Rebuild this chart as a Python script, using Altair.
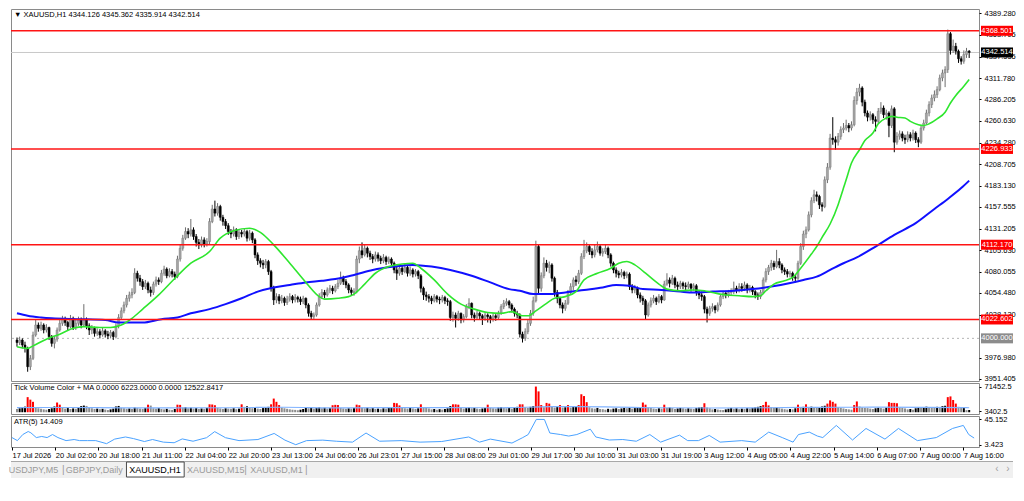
import json
import altair as alt
import pandas as pd

FONT = "Liberation Sans Narrow, Liberation Sans, Arial, sans-serif"
FS = 7.5

# ---------------- price data (H1 candles) ----------------
first_open = 3998
closes = [
    3995, 3998, 3992, 3988, 3966, 3976, 4004, 4016, 4012, 4016,
    4010, 4013, 4002, 3994, 3999, 4010, 4018, 4023, 4019, 4014,
    4024, 4013, 4018, 4022, 4016, 4022, 4015, 4010, 4012, 4006,
    4008, 4004, 4009, 4005, 4003, 4007, 4002, 4015, 4025, 4033,
    4040, 4048, 4052, 4055, 4078, 4072, 4068, 4062, 4066, 4058,
    4055, 4065, 4070, 4068, 4078, 4083, 4075, 4080, 4077, 4074,
    4095, 4108, 4120, 4128, 4125, 4130, 4122, 4115, 4112, 4118,
    4113, 4116, 4140, 4155, 4150, 4158, 4145, 4140, 4135, 4128,
    4125, 4130, 4122, 4127, 4125, 4128, 4120, 4126, 4118, 4100,
    4093, 4090, 4088, 4092, 4080, 4060, 4046, 4050, 4045, 4048,
    4043, 4047, 4050, 4046, 4049, 4047, 4044, 4048, 4040, 4030,
    4026, 4028, 4040, 4050, 4055, 4052, 4058, 4060, 4057, 4062,
    4066, 4072, 4068, 4064, 4058, 4055, 4056, 4095, 4105, 4100,
    4108, 4102, 4098, 4095, 4100, 4096, 4093, 4097, 4092, 4095,
    4090, 4082, 4078, 4084, 4080, 4085, 4078, 4082, 4077, 4080,
    4075, 4060, 4052, 4050, 4048, 4045, 4050, 4047, 4046, 4049,
    4045, 4044, 4025, 4028, 4024, 4030, 4022, 4026, 4038, 4042,
    4028, 4025, 4030, 4027, 4024, 4028, 4026, 4023, 4027, 4025,
    4030, 4038, 4042, 4044, 4040, 4035, 4030, 4028, 4005, 4000,
    4008, 4018, 4030, 4045, 4110, 4060, 4075, 4090, 4085, 4088,
    4072, 4055, 4048, 4040, 4036, 4042, 4055, 4062, 4070, 4068,
    4078, 4098, 4105, 4110, 4104, 4100, 4106, 4110, 4102, 4104,
    4108, 4100, 4090, 4082, 4078, 4076, 4079, 4075, 4077, 4062,
    4058, 4060, 4052, 4048, 4045, 4028, 4040, 4045, 4048, 4044,
    4050, 4046, 4065, 4070, 4066, 4072, 4064, 4062, 4066, 4063,
    4062, 4065, 4060, 4063, 4055, 4052, 4050, 4035, 4030, 4036,
    4038, 4034, 4040, 4050, 4054, 4052, 4055, 4056, 4060, 4058,
    4062, 4060, 4064, 4058, 4061, 4056, 4052, 4050, 4055, 4070,
    4080, 4085, 4090, 4086, 4092, 4088, 4082, 4080, 4077, 4078,
    4073, 4072, 4090, 4110, 4125, 4130, 4148, 4165, 4172, 4170,
    4160, 4158, 4190, 4205, 4240, 4238, 4235, 4242, 4250, 4252,
    4255, 4252, 4256, 4285, 4295, 4300, 4283, 4270, 4265, 4268,
    4262, 4260, 4272, 4276, 4268, 4270, 4255, 4275, 4235, 4242,
    4245, 4240, 4238, 4244, 4240, 4246, 4238, 4235, 4252, 4258,
    4270, 4280, 4288, 4292, 4298, 4312, 4318, 4322, 4365, 4345,
    4350, 4344, 4335, 4332, 4340, 4344.126, 4342.514,
]
highs = [
    4001, 4002, 4000, 3996, 3990, 3980, 4008, 4022, 4019, 4020,
    4018, 4017, 4014, 4004, 4003, 4013, 4022, 4027, 4026, 4021,
    4028, 4026, 4022, 4026, 4025, 4041, 4025, 4018, 4016, 4014,
    4012, 4011, 4013, 4011, 4009, 4010, 4009, 4018, 4029, 4037,
    4044, 4052, 4056, 4060, 4084, 4081, 4076, 4071, 4070, 4068,
    4062, 4068, 4074, 4073, 4082, 4087, 4085, 4084, 4083, 4080,
    4099, 4112, 4124, 4133, 4132, 4143, 4133, 4125, 4119, 4122,
    4121, 4120, 4144, 4160, 4165, 4162, 4160, 4148, 4143, 4138,
    4131, 4134, 4132, 4131, 4130, 4132, 4130, 4130, 4128, 4120,
    4103, 4096, 4094, 4095, 4094, 4082, 4063, 4054, 4053, 4052,
    4050, 4051, 4054, 4052, 4053, 4051, 4050, 4051, 4049, 4042,
    4033, 4031, 4043, 4054, 4059, 4058, 4061, 4064, 4063, 4065,
    4070, 4080, 4075, 4071, 4066, 4061, 4060, 4099, 4110, 4115,
    4112, 4110, 4105, 4101, 4104, 4103, 4099, 4101, 4099, 4098,
    4097, 4092, 4086, 4088, 4087, 4089, 4087, 4086, 4084, 4083,
    4082, 4077, 4062, 4056, 4053, 4051, 4053, 4052, 4050, 4052,
    4051, 4048, 4046, 4032, 4031, 4033, 4031, 4029, 4041, 4048,
    4043, 4031, 4033, 4032, 4029, 4031, 4030, 4028, 4030, 4029,
    4033, 4041, 4046, 4048, 4046, 4042, 4037, 4033, 4030, 4008,
    4012, 4022, 4034, 4050, 4117, 4112, 4079, 4097, 4094, 4092,
    4090, 4074, 4058, 4050, 4043, 4046, 4058, 4066, 4073, 4075,
    4082, 4102, 4118, 4115, 4113, 4108, 4112, 4116, 4113, 4108,
    4112, 4110, 4102, 4092, 4085, 4081, 4083, 4081, 4080, 4079,
    4065, 4064, 4062, 4055, 4051, 4047, 4043, 4049, 4052, 4050,
    4053, 4052, 4069, 4078, 4073, 4076, 4074, 4068, 4069, 4068,
    4067, 4068, 4066, 4066, 4065, 4058, 4056, 4052, 4038, 4039,
    4042, 4040, 4043, 4053, 4057, 4057, 4058, 4060, 4068, 4063,
    4066, 4066, 4068, 4066, 4064, 4063, 4058, 4055, 4058, 4073,
    4084, 4088, 4094, 4093, 4106, 4096, 4090, 4085, 4083, 4081,
    4080, 4076, 4093, 4114, 4129, 4134, 4152, 4169, 4178, 4176,
    4172, 4163, 4194, 4210, 4245, 4265, 4242, 4246, 4254, 4258,
    4262, 4258, 4260, 4290, 4300, 4305, 4302, 4286, 4273, 4272,
    4270, 4266, 4276, 4283, 4279, 4274, 4272, 4279, 4277, 4247,
    4249, 4248, 4244, 4248, 4247, 4250, 4248, 4241, 4255, 4262,
    4274, 4284, 4292, 4297, 4302, 4316, 4322, 4326, 4370, 4367,
    4358, 4354, 4346, 4338, 4345, 4348, 4345.362,
]
lows = [
    3990, 3992, 3988, 3983, 3960, 3962, 3974, 4002, 4008, 4009,
    4006, 4007, 3998, 3990, 3988, 3996, 4008, 4015, 4015, 4010,
    4012, 4010, 4010, 4015, 4012, 4014, 4011, 4004, 4005, 4002,
    4003, 4000, 4002, 4001, 3999, 4000, 3998, 4000, 4012, 4022,
    4030, 4037, 4044, 4048, 4053, 4068, 4063, 4058, 4059, 4054,
    4050, 4052, 4062, 4064, 4066, 4075, 4072, 4073, 4073, 4070,
    4072, 4092, 4105, 4118, 4120, 4122, 4118, 4110, 4107, 4109,
    4109, 4110, 4113, 4138, 4146, 4147, 4141, 4135, 4131, 4124,
    4120, 4122, 4118, 4119, 4121, 4122, 4116, 4117, 4114, 4096,
    4088, 4085, 4083, 4084, 4076, 4056, 4040, 4042, 4041, 4042,
    4039, 4040, 4044, 4042, 4043, 4043, 4040, 4041, 4036, 4026,
    4022, 4023, 4026, 4038, 4047, 4048, 4050, 4054, 4053, 4055,
    4059, 4064, 4064, 4060, 4054, 4051, 4051, 4054, 4090, 4096,
    4098, 4097, 4094, 4090, 4092, 4092, 4089, 4090, 4088, 4089,
    4086, 4078, 4070, 4075, 4076, 4078, 4074, 4075, 4073, 4074,
    4071, 4055, 4046, 4045, 4043, 4041, 4043, 4043, 4041, 4043,
    4041, 4039, 4021, 4020, 4013, 4021, 4018, 4019, 4024, 4035,
    4024, 4020, 4022, 4023, 4016, 4021, 4019, 4018, 4020, 4021,
    4023, 4028, 4035, 4039, 4036, 4031, 4026, 4024, 4001, 3995,
    3997, 4005, 4015, 4027, 4043, 4052, 4056, 4072, 4080, 4078,
    4068, 4050, 4042, 4036, 4030, 4033, 4040, 4052, 4058, 4063,
    4065, 4076, 4095, 4102, 4100, 4096, 4097, 4103, 4099, 4098,
    4101, 4096, 4086, 4078, 4073, 4072, 4073, 4071, 4072, 4058,
    4054, 4054, 4048, 4043, 4040, 4022, 4026, 4037, 4042, 4040,
    4042, 4042, 4045, 4063, 4061, 4064, 4060, 4057, 4059, 4059,
    4058, 4059, 4056, 4057, 4051, 4047, 4045, 4030, 4019, 4027,
    4032, 4030, 4032, 4038, 4047, 4048, 4049, 4051, 4053, 4054,
    4055, 4056, 4057, 4054, 4055, 4052, 4048, 4046, 4047, 4053,
    4067, 4076, 4081, 4082, 4084, 4084, 4078, 4076, 4073, 4073,
    4069, 4067, 4070, 4088, 4106, 4120, 4128, 4145, 4162, 4164,
    4155, 4152, 4156, 4186, 4202, 4232, 4226, 4231, 4238, 4246,
    4249, 4247, 4249, 4254, 4280, 4290, 4278, 4266, 4260, 4261,
    4257, 4248, 4258, 4269, 4264, 4262, 4241, 4252, 4223, 4232,
    4238, 4236, 4233, 4235, 4236, 4237, 4234, 4229, 4233, 4249,
    4256, 4266, 4276, 4284, 4288, 4296, 4308, 4301, 4318, 4340,
    4342, 4340, 4330, 4328, 4329, 4336, 4335.914,
]

# tick volume per bar
volumes = [
    9000, 11000, 13000, 15500, 42000, 35000, 29000, 14000, 11000, 9500,
    8000, 7000, 9000, 11000, 16000, 27000, 21000, 12000, 10000, 11500,
    9000, 10500, 9500, 12000, 17000, 18500, 17500, 13000, 11000, 9000,
    10000, 8500, 9500, 7500, 6000, 8000, 10000, 16000, 17500, 12000,
    11000, 9500, 10500, 9000, 13000, 11500, 10000, 9000, 12000, 21000,
    18500, 11000, 10000, 11500, 9000, 8000, 9500, 7000, 6500, 9000,
    21000, 20500, 13000, 14000, 11000, 12500, 10000, 11500, 9000, 10500,
    9500, 12000, 22000, 21500, 19500, 12000, 10500, 9000, 11000, 10000,
    9500, 11000, 8500, 10000, 22000, 15000, 16500, 12000, 11000, 12500,
    10000, 9000, 11500, 13000, 15000, 22000, 38000, 29000, 20000, 13000,
    11000, 9500, 8000, 7000, 6500, 5500, 7000, 9000, 12000, 11000,
    13000, 10000, 12000, 13500, 11000, 12500, 10000, 11500, 19500, 20500,
    20000, 12000, 10500, 9500, 11000, 10000, 12000, 21000, 19500, 12500,
    11000, 12500, 10000, 11500, 9000, 10000, 8500, 11000, 10000, 12000,
    14000, 26000, 25000, 19000, 13000, 11000, 10000, 12000, 10500, 9000,
    11000, 22000, 14000, 12000, 10500, 8000, 9000, 7000, 8500, 7500,
    9000, 11000, 17000, 22000, 22000, 21000, 12000, 10000, 11500, 13000,
    11000, 12000, 10000, 9000, 10500, 12000, 21000, 12500, 11000, 10000,
    13000, 14500, 12000, 11000, 12500, 10000, 13000, 15000, 22000, 22000,
    14000, 12000, 15000, 17000, 71400, 58000, 20000, 14000, 26000, 24000,
    15000, 13000, 14500, 20000, 13000, 14000, 20000, 13000, 15000, 17000,
    20000, 50000, 45000, 28000, 14000, 11000, 10000, 12000, 9000, 8500,
    7000, 9500, 8000, 10000, 11000, 9000, 10500, 12000, 11000, 12500,
    10000, 11500, 13000, 14000, 27000, 21000, 13500, 12000, 10000, 9000,
    11000, 10000, 21000, 12000, 13000, 11500, 9000, 10500, 12000, 11000,
    9500, 11000, 10000, 9000, 12000, 13000, 14000, 25000, 13000, 11000,
    8000, 9000, 7500, 6500, 6000, 8000, 10000, 12000, 9500, 11000,
    8500, 10000, 9000, 11500, 10500, 12000, 13500, 15000, 17000, 20000,
    29000, 19000, 14000, 12500, 13000, 11000, 10000, 8500, 7500, 9000,
    8000, 11000, 21000, 13000, 15000, 22000, 14000, 15500, 13000, 12000,
    14000, 16000, 18000, 24000, 33000, 29000, 24000, 14000, 12000, 10500,
    9000, 8000, 7000, 20000, 30000, 16000, 13000, 12000, 11500, 10000,
    9000, 11000, 12500, 11500, 10000, 13000, 28000, 26000, 26000, 25000,
    14000, 12000, 10500, 8000, 9000, 7000, 11000, 13000, 12000, 14000,
    15500, 14000, 13000, 12500, 15000, 13500, 17000, 18000, 42000, 44000,
    34000, 24000, 15000, 12000, 13500, 5800, 6223,
]
vol_blue_level = 19000

# volume moving average (read at sample bars)
vma_bar = [0, 20, 40, 60, 80, 100, 120, 140, 160, 180, 200, 220, 240, 260, 280, 300, 320, 340, 356]
vma_val = [12800, 13200, 12300, 12000, 12500, 13800, 12200, 12600, 12800, 12300,
           15500, 15000, 12400, 11800, 12500, 13500, 14000, 13500, 12522.8417]

# green (fast) moving average, read at sample bars
g_bar = [0, 4, 6, 11, 16, 21, 25, 31, 35, 39, 43, 47, 53, 60, 65, 72, 76, 81, 87, 91,
         96, 102, 108, 113, 115, 120, 124, 126, 130, 134, 139, 144, 148, 151, 156, 161, 166, 171, 176, 181,
         185, 189, 191, 194, 198, 201, 205, 209, 212, 217, 222, 225, 228, 231, 235, 240, 243, 248, 253, 257,
         260, 265, 270, 275, 278, 280, 283, 287, 290, 293, 297, 299, 301, 304, 307, 308, 309, 310, 312, 315,
         317, 320, 322, 325, 327, 329, 332, 334, 337, 339, 341, 344, 347, 349, 351, 354, 356]
g_val = [3990, 3988, 3991, 3999, 4005, 4012, 4014, 4013, 4013, 4016, 4024, 4035, 4052, 4075, 4090, 4104, 4120, 4129, 4132, 4127,
         4112, 4090, 4067, 4050, 4047, 4048, 4050, 4053, 4065, 4078, 4086, 4089, 4090, 4084, 4070, 4053, 4041, 4035, 4031, 4030,
         4032, 4027, 4027, 4033, 4042, 4048, 4050, 4056, 4070, 4078, 4084, 4090, 4092, 4088, 4078, 4065, 4059, 4057, 4058, 4057,
         4055, 4052, 4051, 4050, 4051, 4057, 4065, 4069, 4073, 4084, 4101, 4110, 4121, 4137, 4160, 4170, 4180, 4190, 4210, 4226,
         4237, 4246, 4257, 4264, 4266, 4265, 4264, 4260, 4256, 4255, 4257, 4263, 4271, 4282, 4291, 4302, 4310]

# blue (slow) moving average, read at sample bars
b_bar = [0, 4, 9, 13, 23, 33, 38, 41, 47, 54, 60, 65, 72, 78, 84, 90, 96, 102, 108, 114,
         119, 126, 133, 141, 148, 155, 162, 170, 177, 184, 188, 193, 198, 205, 212, 219, 224, 229, 234, 241,
         248, 253, 260, 268, 275, 282, 290, 294, 299, 304, 309, 314, 321, 328, 336, 343, 348, 353, 356]
b_val = [4030, 4027, 4025, 4024, 4023, 4022, 4019, 4019, 4019, 4023, 4025, 4030, 4035, 4041, 4048, 4056, 4061, 4064, 4067, 4069,
         4071, 4076, 4082, 4086, 4088, 4086, 4082, 4075, 4067, 4059, 4057, 4053, 4053, 4055, 4058, 4061, 4064, 4063, 4059, 4058,
         4056, 4055, 4056, 4057, 4059, 4062, 4067, 4070, 4074, 4082, 4090, 4097, 4110, 4124, 4138, 4155, 4167, 4180, 4189]

# ATR(5), read at sample bars
atr_bar = [0, 2, 4, 6, 7, 9, 11, 13, 15, 17, 20, 23, 25, 28, 31, 35, 38, 42, 45, 49,
           52, 56, 60, 63, 67, 72, 75, 79, 84, 91, 97, 101, 105, 109, 115, 120, 126, 131, 136, 144,
           151, 159, 169, 173, 177, 185, 189, 191, 194, 197, 199, 203, 206, 209, 214, 216, 221, 226, 231, 236,
           240, 247, 250, 254, 258, 262, 270, 275, 280, 285, 289, 291, 295, 298, 300, 305, 311, 316, 323, 328,
           335, 342, 348, 352, 354, 356]
atr_val = [15.2, 10.2, 20.2, 25.2, 23, 15.2, 17, 15.2, 20.2, 15.2, 10.2, 12, 10.2, 10.2, 10.2, 5.2, 12.7, 16.2, 13.5, 8.7,
           12, 7.7, 6.7, 13, 9.2, 15, 25, 15, 10.2, 12, 22, 11, 3.5, 10.2, 11, 9.2, 7.7, 22.7, 9.2, 10.2,
           7.7, 8.7, 16.2, 7.7, 12.7, 6.2, 15.2, 20.2, 45.1, 45, 22.7, 20.2, 17.7, 20.2, 29, 16.2, 11.2, 12, 9.2, 20.2,
           7.7, 19.2, 10.2, 10.2, 18.7, 7.7, 10.2, 7.7, 24.2, 15.2, 7.7, 20.2, 24.2, 17.7, 15.2, 35.2, 11.2, 30.2, 12.7, 30.2,
           10.2, 15.2, 30.2, 35.2, 20.2, 14.409]

# horizontal levels
red_levels = [4368.501, 4226.933, 4112.170, 4022.602]
round_level = 4000.0

price_ticks = [4389.280, 4363.705, 4337.555, 4311.780, 4286.205, 4260.630, 4234.280, 4208.705,
               4183.130, 4157.555, 4131.205, 4105.630, 4080.055, 4054.480, 4028.130, 3976.980, 3951.405]
vol_ticks = [71452.5, 3402.5]
atr_ticks = [45.152, 3.423]

x_labels = ["17 Jul 2026", "20 Jul 02:00", "20 Jul 18:00", "21 Jul 11:00", "22 Jul 04:00", "22 Jul 20:00",
            "23 Jul 13:00", "24 Jul 06:00", "26 Jul 23:01", "27 Jul 15:00", "28 Jul 08:00", "29 Jul 01:00",
            "29 Jul 17:00", "30 Jul 10:00", "31 Jul 03:00", "31 Jul 19:00", "3 Aug 12:00", "4 Aug 05:00",
            "4 Aug 22:00", "5 Aug 14:00", "6 Aug 07:00", "7 Aug 00:00", "7 Aug 16:00"]
bars_per_label = 16

tabs = ["USDJPY,M5", "GBPJPY,Daily", "XAUUSD,H1", "XAUUSD,M15", "XAUUSD,M1"]
active_tab = "XAUUSD,H1"
symbol = "XAUUSD,H1"
scroll_arrows = ["\u2039", "\u203a"]

# ---------------- frames ----------------
n = len(closes)
opens = [first_open] + closes[:-1]
candles = pd.DataFrame({"i": list(range(n)), "o": opens, "h": highs, "l": lows, "c": closes})

vcol = []
for k, v in enumerate(volumes):
    if v >= vol_blue_level:
        vcol.append("b")
    elif k > 0 and v > volumes[k - 1]:
        vcol.append("g")
    else:
        vcol.append("r")
vol_df = pd.DataFrame({"i": list(range(len(volumes))), "v": volumes, "col": vcol})
vma_df = pd.DataFrame({"i": vma_bar, "v": vma_val})
g_df = pd.DataFrame({"i": g_bar, "v": g_val})
b_df = pd.DataFrame({"i": b_bar, "v": b_val})
atr_df = pd.DataFrame({"i": atr_bar, "v": atr_val})

# ---------------- geometry (page has an 8px margin, everything must fit inside) ----------------
W = 968
H_MAIN, H_VOL, H_ATR, H_TAB = 372, 31, 31, 29
TAB_TOP = 12      # tab strip starts this far below the top of the last panel
RIGHT_EDGE = 1002 # right end of the tab strip, relative to the plot origin

xs = alt.Scale(domain=[-0.363, 357.8], nice=False, zero=False)
ys = alt.Scale(domain=[3948.9, 4394.6], nice=False, zero=False)
vys = alt.Scale(domain=[-4928, 81312], nice=False, zero=False)
ays = alt.Scale(domain=[-0.3, 50.7], nice=False, zero=False)


def right_axis(values, fmt):
    return alt.Axis(orient="right", values=values, format=fmt, title=None, grid=False, domain=False,
                    ticks=True, tickSize=2, tickColor="#000000", labelFont=FONT, labelFontSize=FS,
                    labelColor="#000000", labelPadding=3, labelFlush=False, labelOverlap=False)


main_axis = right_axis(price_ticks, ".3f")
XN = alt.X("i:Q", scale=xs, axis=None)
bull = "datum.c >= datum.o"

one = pd.DataFrame({"k": [0]})

# ---------------- main panel ----------------
cur_line = alt.Chart(pd.DataFrame({"v": [closes[-1]]})).mark_rule(color="#c8c8c8", strokeWidth=1).encode(
    y=alt.Y("v:Q", scale=ys, axis=main_axis))
rnd_line = alt.Chart(pd.DataFrame({"v": [round_level]})).mark_rule(
    color="#b4b4b4", strokeWidth=1, strokeDash=[2, 3]).encode(y=alt.Y("v:Q", scale=ys, axis=main_axis))

wick = alt.Chart(candles).mark_rule(strokeWidth=1).encode(
    x=XN, y=alt.Y("l:Q", scale=ys, axis=main_axis), y2="h:Q",
    color=alt.condition(bull, alt.value("#6e6e6e"), alt.value("#000000")))
body = alt.Chart(candles).mark_bar(size=2, strokeWidth=0.5).encode(
    x=XN, y=alt.Y("o:Q", scale=ys, axis=main_axis), y2="c:Q",
    color=alt.condition(bull, alt.value("#a6a6a6"), alt.value("#000000")),
    stroke=alt.condition(bull, alt.value("#7a7a7a"), alt.value("#000000")))

blue_ma = alt.Chart(b_df).mark_line(color="#1010ff", strokeWidth=2, interpolate="monotone").encode(
    x=XN, y=alt.Y("v:Q", scale=ys, axis=main_axis))
green_ma = alt.Chart(g_df).mark_line(color="#2ee62e", strokeWidth=1.6, interpolate="monotone").encode(
    x=XN, y=alt.Y("v:Q", scale=ys, axis=main_axis))

red_lines = alt.Chart(pd.DataFrame({"v": red_levels})).mark_rule(color="#ff1414", strokeWidth=1.6).encode(
    y=alt.Y("v:Q", scale=ys, axis=main_axis))

tag_df = pd.DataFrame({"v": red_levels + [closes[-1], round_level],
                       "k": ["line"] * len(red_levels) + ["price", "round"]})
tag_color = alt.Color("k:N", scale=alt.Scale(domain=["line", "price", "round"],
                                             range=["#ff0000", "#000000", "#8c8c8c"]), legend=None)
tag_box = alt.Chart(tag_df).mark_rect(yOffset=-5, y2Offset=5).encode(
    x=alt.value(W + 2), x2=alt.value(W + 34),
    y=alt.Y("v:Q", scale=ys, axis=main_axis), y2="v:Q", color=tag_color)
tag_txt = alt.Chart(tag_df).mark_text(color="#ffffff", font=FONT, fontSize=FS, align="center",
                                      baseline="middle").encode(
    x=alt.value(W + 18), y=alt.Y("v:Q", scale=ys, axis=main_axis), text=alt.Text("v:Q", format=".3f"))

header = "\u25bc " + symbol + "  " + " ".join(f"{v:.3f}" for v in [opens[-1], highs[-1], lows[-1], closes[-1]])
title_txt = alt.Chart(pd.DataFrame({"t": [header]})).mark_text(
    align="left", baseline="middle", font=FONT, fontSize=FS, color="#000000").encode(
    x=alt.value(3), y=alt.value(6), text="t:N")

main = alt.layer(cur_line, rnd_line, wick, body, blue_ma, green_ma, red_lines, tag_box, tag_txt,
                 title_txt).properties(width=W, height=H_MAIN)

# ---------------- volume panel ----------------
vol_axis = right_axis(vol_ticks, ".1f")
vol_bars = alt.Chart(vol_df).mark_bar(size=2).encode(
    x=XN, y=alt.Y("v:Q", scale=vys, axis=vol_axis), y2=alt.datum(0),
    color=alt.Color("col:N", scale=alt.Scale(domain=["b", "g", "r"], range=["#0000ff", "#00ee00", "#ff0000"]),
                    legend=None))
vol_ma = alt.Chart(vma_df).mark_line(color="#7fb2ff", strokeWidth=1.2, interpolate="monotone").encode(
    x=XN, y=alt.Y("v:Q", scale=vys, axis=vol_axis))
vol_head = f"Tick Volume Color + MA 0.0000 {volumes[-1]:.4f} 0.0000 {vma_val[-1]:.4f}"
vol_txt = alt.Chart(pd.DataFrame({"t": [vol_head]})).mark_text(
    align="left", baseline="middle", font=FONT, fontSize=FS, color="#000000").encode(
    x=alt.value(3), y=alt.value(5), text="t:N")
vol = alt.layer(vol_bars, vol_ma, vol_txt).properties(width=W, height=H_VOL)

# ---------------- ATR panel ----------------
atr_axis = right_axis(atr_ticks, ".3f")
x_axis = alt.Axis(values=[bars_per_label * k for k in range(len(x_labels))],
                  labelExpr=json.dumps(x_labels) + f"[round(datum.value/{bars_per_label})]",
                  orient="bottom", title=None, grid=False, domain=False, ticks=True, tickSize=3,
                  tickColor="#000000", labelAlign="left", labelFont=FONT, labelFontSize=FS,
                  labelColor="#000000", labelPadding=1, labelFlush=False, labelOverlap=False, labelBound=False)
atr_line = alt.Chart(atr_df).mark_line(color="#4aa2ff", strokeWidth=1).encode(
    x=alt.X("i:Q", scale=xs, axis=x_axis), y=alt.Y("v:Q", scale=ays, axis=atr_axis))
atr_txt = alt.Chart(pd.DataFrame({"t": [f"ATR(5) {atr_val[-1]:.3f}"]})).mark_text(
    align="left", baseline="middle", font=FONT, fontSize=FS, color="#000000").encode(
    x=alt.value(3), y=alt.value(6), text="t:N")
atr = alt.layer(atr_line, atr_txt).properties(width=W, height=H_ATR)

# ---------------- tab strip ----------------
act = tabs.index(active_tab)
tab_df = pd.DataFrame({"i": list(range(len(tabs))), "name": tabs})
tab_df["active"] = tab_df["i"] == act
tab_df["sep"] = ~tab_df["i"].isin([act - 1, act])
txs = alt.Scale(domain=[-0.37, 15.56], nice=False, zero=False)
TY = TAB_TOP + 8.5

tab_bg = alt.Chart(one).mark_rect(color="#f0f0f0").encode(
    x=alt.value(0), x2=alt.value(RIGHT_EDGE), y=alt.value(TAB_TOP), y2=alt.value(H_TAB))
tab_top = alt.Chart(one).mark_rule(color="#a8a8a8", strokeWidth=1).encode(
    x=alt.value(0), x2=alt.value(RIGHT_EDGE), y=alt.value(TAB_TOP + 0.5))
tab_act = alt.Chart(tab_df).transform_filter("datum.active").transform_calculate(
    x0="datum.i - 0.47", x1="datum.i + 0.48").mark_rect(
    fill="#ffffff", stroke="#4a4a4a", strokeWidth=1).encode(
    x=alt.X("x0:Q", scale=txs, axis=None), x2="x1:Q", y=alt.value(TAB_TOP + 1), y2=alt.value(H_TAB - 1))
tab_txt = alt.Chart(tab_df).mark_text(font=FONT, fontSize=9, baseline="middle").encode(
    x=alt.X("i:Q", scale=txs, axis=None), y=alt.value(TY),
    text="name:N", color=alt.condition("datum.active", alt.value("#000000"), alt.value("#9a9a9a")))
tab_sep = alt.Chart(tab_df).transform_filter("datum.sep").transform_calculate(
    s="datum.i + 0.49").mark_text(text="|", font=FONT, fontSize=10, color="#9a9a9a",
                                  baseline="middle").encode(
    x=alt.X("s:Q", scale=txs, axis=None), y=alt.value(TY))
arrow_l = alt.Chart(pd.DataFrame({"a": [scroll_arrows[0]]})).mark_text(
    font=FONT, fontSize=10, color="#a0a0a0", baseline="middle").encode(
    x=alt.value(RIGHT_EDGE - 16), y=alt.value(TY - 1), text="a:N")
arrow_r = alt.Chart(pd.DataFrame({"a": [scroll_arrows[1]]})).mark_text(
    font=FONT, fontSize=10, color="#a0a0a0", baseline="middle").encode(
    x=alt.value(RIGHT_EDGE - 5), y=alt.value(TY - 1), text="a:N")
tabbar = alt.layer(tab_bg, tab_top, tab_act, tab_txt, tab_sep, arrow_l, arrow_r).properties(
    width=W, height=H_TAB, view=alt.ViewBackground(stroke="transparent"))

chart = alt.vconcat(main, vol, atr, tabbar, spacing=2, bounds="flush").properties(
    padding=0,
    background="#ffffff",
).configure_view(stroke="#8a8a8a", strokeWidth=1)

chart.save("out.html", embed_options={"renderer": "svg", "actions": False})
